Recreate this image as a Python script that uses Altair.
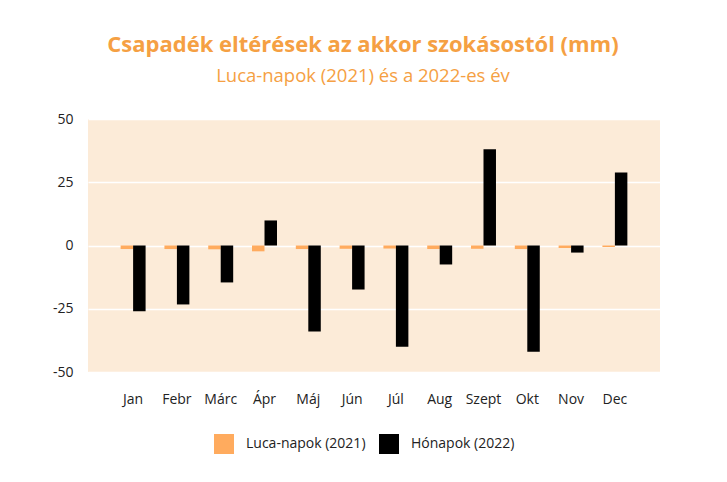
import altair as alt
import pandas as pd

months = ["Jan", "Febr", "Márc", "Ápr", "Máj", "Jún", "Júl", "Aug", "Szept", "Okt", "Nov", "Dec"]
luca_2021 = [-1.4, -1.4, -1.5, -2.3, -1.4, -1.3, -1.2, -1.4, -1.3, -1.4, -1.0, -0.6]
honapok_2022 = [-26.0, -23.3, -14.6, 9.9, -34.0, -17.4, -40.0, -7.5, 38.0, -42.0, -2.8, 28.9]
series_names = ["Luca-napok (2021)", "Hónapok (2022)"]
series_colors = ["#FFAB5E", "#000000"]
y_ticks = [-50, -25, 0, 25, 50]

rows = []
for m, a, b in zip(months, luca_2021, honapok_2022):
    rows.append({"month": m, "series": series_names[0], "value": a})
    rows.append({"month": m, "series": series_names[1], "value": b})
df = pd.DataFrame(rows)

FONT = "Open Sans"

chart = alt.Chart(df).mark_bar().encode(
    x=alt.X("month:N", sort=months,
            scale=alt.Scale(paddingInner=0.43, paddingOuter=0.745),
            axis=alt.Axis(title=None, labelAngle=0, ticks=False, domain=False,
                          labelPadding=20, labelFontSize=14, labelColor="#222222",
                          labelFont=FONT, grid=False)),
    xOffset=alt.XOffset("series:N", sort=series_names),
    y=alt.Y("value:Q", scale=alt.Scale(domain=[-50, 50], nice=False),
            axis=alt.Axis(title=None, values=y_ticks, ticks=False, domain=False,
                          labelExpr="datum.value + ''",
                          labelPadding=15, labelFontSize=14, labelColor="#222222",
                          labelFont=FONT, gridColor="#FFFFFF", gridWidth=1.5)),
    color=alt.Color("series:N", sort=series_names,
                    scale=alt.Scale(domain=series_names, range=series_colors),
                    legend=alt.Legend(title=None, orient="none", direction="horizontal",
                                      legendX=126, legendY=315, symbolType="square",
                                      symbolSize=400, symbolStrokeWidth=0,
                                      labelFontSize=14, labelFont=FONT, labelColor="#222222",
                                      labelOffset=12, columnPadding=13, padding=0)),
).properties(
    width=572,
    height=253,
    title=alt.TitleParams(
        text="Csapadék eltérések az akkor szokásostól (mm)",
        subtitle="Luca-napok (2021) és a 2022-es év",
        font=FONT, fontSize=22, fontWeight="bold", color="#F5A043",
        subtitleFont=FONT, subtitleFontSize=18.5, subtitleColor="#F5A043",
        subtitleFontWeight="normal", subtitlePadding=10,
        anchor="middle", dx=-11, offset=26,
    ),
    autosize=alt.AutoSizeParams(type="none"),
    padding={"left": 80, "top": 111, "right": 59, "bottom": 102},
).configure_view(
    fill="#FCEBD8", stroke=None
)

chart.save("out.html", embed_options={"renderer": "svg", "actions": False})
